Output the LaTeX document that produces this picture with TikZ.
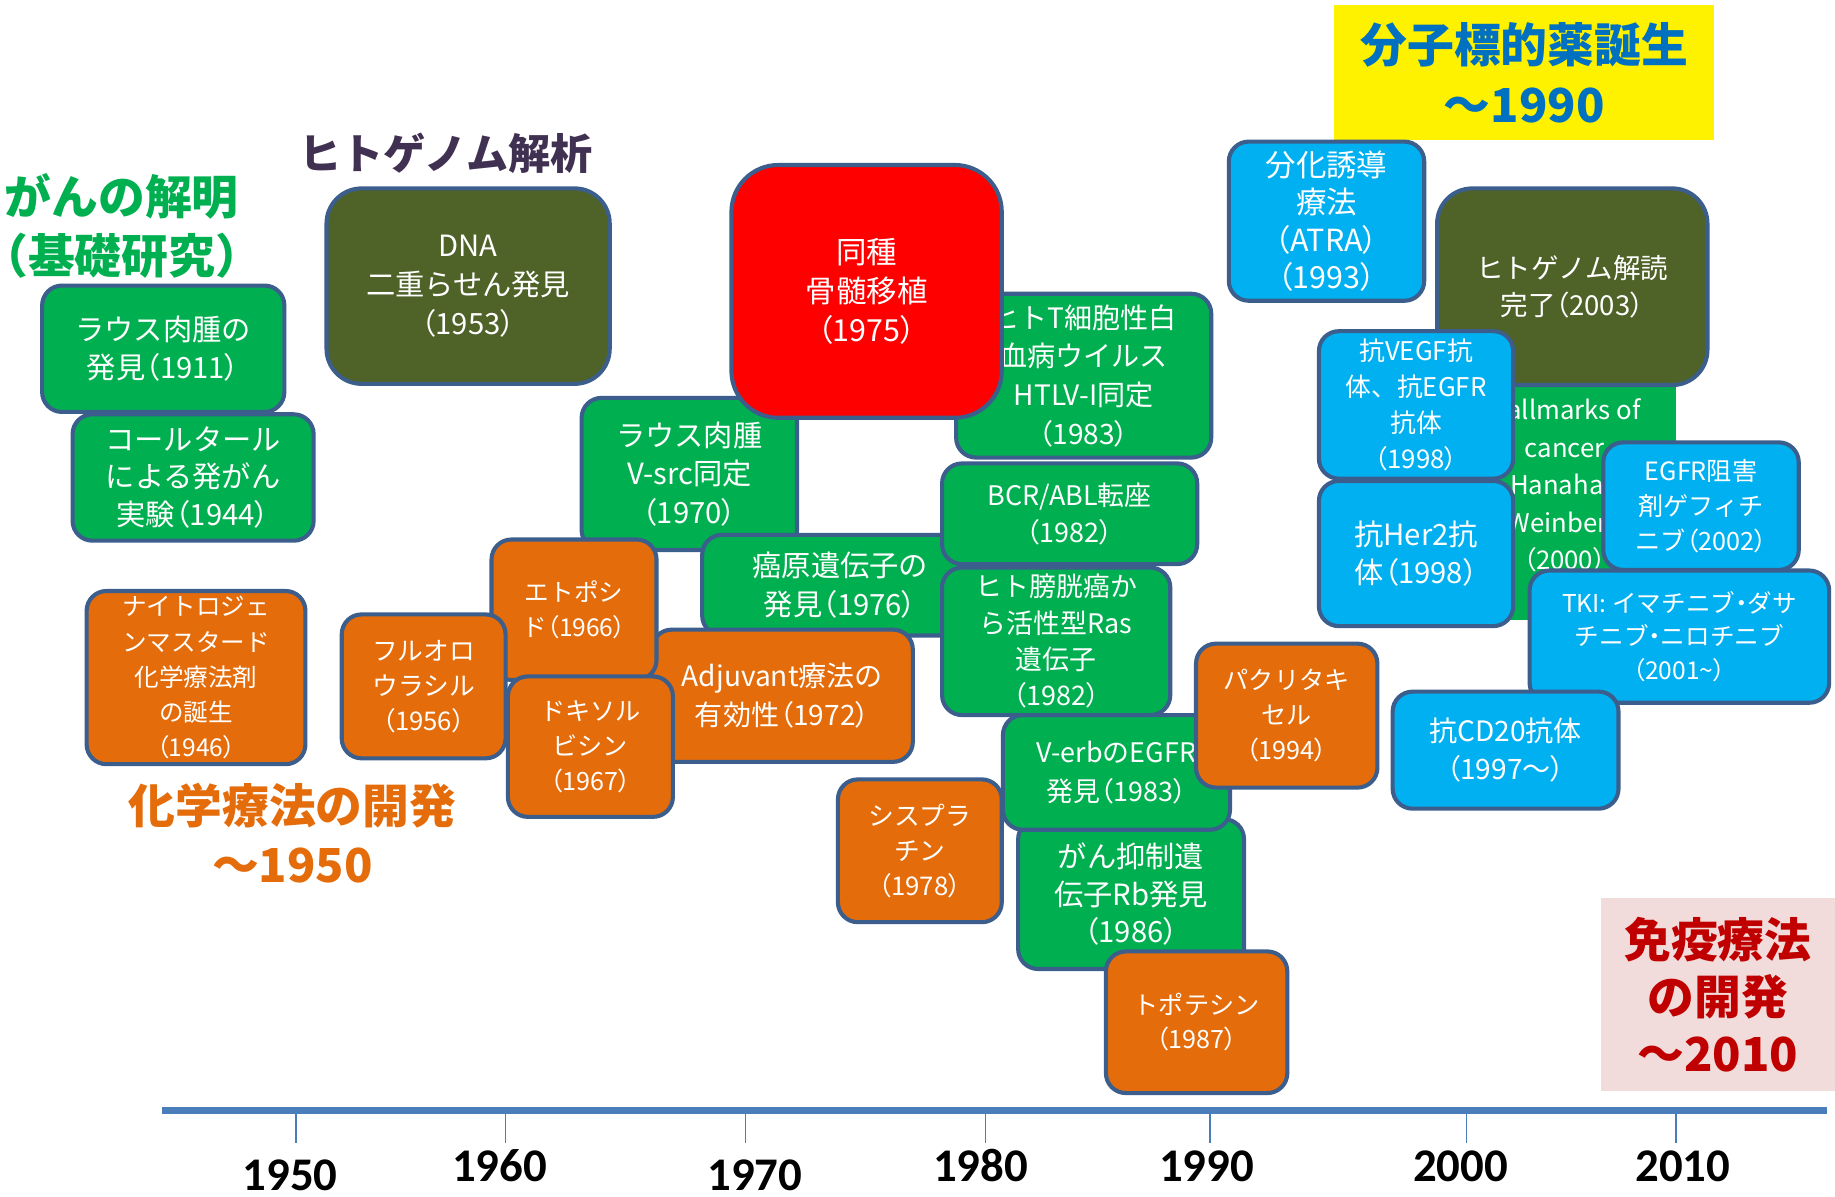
\documentclass[tikz,border=0pt]{standalone}
\usepackage{fontspec}
\setmainfont{Noto Sans CJK JP}
\newfontfamily\pfont{Noto Sans CJK JP}[RawFeature=+palt]
\newfontfamily\yearfont{Carlito}
\newcommand{\jlp}{{\pfont （}}
\newcommand{\jrp}{{\pfont ）}}
\newcommand{\jdot}{{\pfont ・}}
\definecolor{grn}{HTML}{00B050}
\definecolor{olv}{HTML}{4F6228}
\definecolor{org}{HTML}{E46C0A}
\definecolor{rd}{HTML}{FF0000}
\definecolor{cyn}{HTML}{00B0F0}
\definecolor{bordc}{HTML}{3B5E8C}
\definecolor{ttlpurple}{HTML}{403152}
\definecolor{ttlblue}{HTML}{0070C0}
\definecolor{ttlred}{HTML}{C00000}
\definecolor{pinkbg}{HTML}{F2DCDB}
\definecolor{axisc}{HTML}{4A7EBB}
\tikzset{
  box/.style={draw=bordc, line width=3.5pt, rounded corners=17pt, text=white, align=center, inner sep=0pt, anchor=center},
  fs/.style 2 args={font=\fontsize{#1}{#2}\selectfont},
  ttl/.style={align=center, inner sep=0pt, anchor=center, font=\fontsize{40}{50}\selectfont\bfseries},
  tick/.style={draw=axisc, line width=1.3pt},
  yr/.style={inner sep=0pt, anchor=base, text depth=0pt, font=\fontsize{40}{40}\selectfont\yearfont\bfseries}
}
\begin{document}
\begin{tikzpicture}[x=1pt,y=-1pt]
\useasboundingbox (0,0) rectangle (1568,1022);

% titles
\node[ttl, text=grn] (tcancer) at (104,193) {がんの解明\\（基礎研究）};
\node[ttl, text=ttlpurple, font=\fontsize{36}{40}\selectfont\bfseries] (tgenome) at (381,131) {ヒトゲノム解析};
\node[ttl, text=org] (tchemo) at (250,712) {化学療法の開発\\～1950};
\node[fill=yellow, minimum width=325pt, minimum height=116pt, inner sep=0pt] (ybox) at (1302.5,62) {};
\node[ttl, text=ttlblue, font=\fontsize{40}{51}\selectfont\bfseries] (tmol) at (1302.5,62) {分子標的薬誕生\\～1990};
\node[fill=pinkbg, minimum width=200pt, minimum height=165pt, inner sep=0pt] (pbox) at (1468,849.5) {};
\node[ttl, text=ttlred, font=\fontsize{40}{48.5}\selectfont\bfseries] (timm) at (1468,850) {免疫療法\\の開発\\～2010};

% boxes
\node[box, fill=grn, minimum width=207pt, minimum height=108pt, fs={25}{32}] (b1) at (139.5,298) {ラウス肉腫の\\発見\jlp 1911\jrp};
\node[box, fill=grn, minimum width=206pt, minimum height=108pt, fs={25}{32}] (b2) at (165,408) {コールタール\\による発がん\\実験\jlp 1944\jrp};
\node[box, fill=olv, minimum width=242pt, minimum height=167pt, rounded corners=30pt, fs={25}{33}] (b3) at (400,244.5) {DNA\\二重らせん発見\\\jlp 1953\jrp};
\node[box, fill=grn, minimum width=184pt, minimum height=130pt, fs={25}{33}] (b5) at (589,405) {ラウス肉腫\\V-src同定\\\jlp 1970\jrp};
\node[box, fill=grn, minimum width=218pt, minimum height=140pt, fs={24}{33}] (b6) at (926,321) {ヒトT細胞性白\\血病ウイルス\\HTLV-I同定\\\jlp 1983\jrp};
\node[box, fill=rd, minimum width=231pt, minimum height=216pt, rounded corners=40pt, fs={26}{33}] (b4) at (740.5,249) {同種\\骨髄移植\\\jlp 1975\jrp};
\node[box, fill=grn, minimum width=236pt, minimum height=86pt, fs={25}{33}] (b8) at (718,500) {癌原遺伝子の\\発見\jlp 1976\jrp};
\node[box, fill=grn, minimum width=218pt, minimum height=86pt, fs={23}{32}] (b7) at (914,439) {BCR/ABL転座\\\jlp 1982\jrp};
\node[box, fill=grn, minimum width=193pt, minimum height=128pt, fs={25}{32}] (b18) at (966.5,764) {がん抑制遺\\伝子Rb発見\\\jlp 1986\jrp};
\node[box, fill=grn, minimum width=194pt, minimum height=98pt, fs={23}{33}] (b16) at (954,660) {V-erbのEGFR\\発見\jlp 1983\jrp};
\node[box, fill=grn, minimum width=195pt, minimum height=126pt, fs={23}{31}] (b9) at (902.5,548) {ヒト膀胱癌か\\ら活性型Ras\\遺伝子\\\jlp 1982\jrp};
\node[box, fill=org, minimum width=223pt, minimum height=113pt, fs={24}{33}] (b11) at (668.5,594.5) {Adjuvant療法の\\有効性\jlp 1972\jrp};
\node[box, fill=org, minimum width=141pt, minimum height=120pt, fs={21}{30}] (b10) at (490.5,521) {エトポシ\\ド\jlp 1966\jrp};
\node[box, fill=org, minimum width=141pt, minimum height=120pt, fs={21.5}{30}] (b12) at (504.5,638) {ドキソル\\ビシン\\\jlp 1967\jrp};
\node[box, fill=org, minimum width=140pt, minimum height=123pt, fs={22}{30}] (b13) at (362,586.5) {フルオロ\\ウラシル\\\jlp 1956\jrp};
\node[box, fill=org, minimum width=187pt, minimum height=148pt, fs={21}{30}] (b14) at (167.5,579) {ナイトロジェ\\ンマスタード\\化学療法剤\\の誕生\\\jlp 1946\jrp};
\node[box, fill=org, minimum width=140pt, minimum height=122pt, fs={22}{30}] (b15) at (786,727) {シスプラ\\チン\\\jlp 1978\jrp};
\node[box, fill=org, minimum width=155pt, minimum height=123pt, fs={21.5}{30}] (b17) at (1099.5,611.5) {パクリタキ\\セル\\\jlp 1994\jrp};
\node[box, fill=org, minimum width=155pt, minimum height=121pt, fs={21.5}{29}] (b19) at (1022.5,873.5) {トポテシン\\\jlp 1987\jrp};
\node[box, fill=cyn, minimum width=167pt, minimum height=136pt, fs={26}{32}] (b20) at (1133.5,189) {分化誘導\\療法\\\jlp ATRA\jrp\\\jlp 1993\jrp};
\node[fill=grn, minimum width=170pt, minimum height=204pt, inner sep=0pt, text=white, align=center, fs={22}{32}] (b22) at (1347,428) {};
\node[text=white, align=center, inner sep=0pt, fs={22}{32}] (b22t) at (1337,415) {Hallmarks of\\cancer\\Hanahan\\Weinberg\\\jlp 2000\jrp};
\node[box, fill=olv, minimum width=231pt, minimum height=168pt, rounded corners=30pt, fs={23.5}{31}] (b21) at (1343.5,245) {ヒトゲノム解読\\完了\jlp 2003\jrp};
\node[box, fill=cyn, minimum width=166pt, minimum height=126pt, fs={22}{31}] (b23) at (1210,346) {抗VEGF抗\\体、抗EGFR\\抗体\\\jlp 1998\jrp};
\node[box, fill=cyn, minimum width=166pt, minimum height=124pt, fs={25}{33}] (b24) at (1210,473) {抗Her2抗\\体\jlp 1998\jrp};
\node[box, fill=cyn, minimum width=167pt, minimum height=109pt, fs={21.5}{30}] (b25) at (1453.5,432.5) {EGFR阻害\\剤ゲフィチ\\ニブ\jlp 2002\jrp};
\node[box, fill=cyn, minimum width=256pt, minimum height=113pt, fs={21}{29}] (b26) at (1435,544) {TKI: イマチニブ\jdot ダサ\\チニブ\jdot ニロチニブ\\\jlp 2001\textasciitilde\jrp};
\node[box, fill=cyn, minimum width=193pt, minimum height=100pt, fs={24}{32}] (b27) at (1286.5,641) {抗CD20抗体\\\jlp 1997～\jrp};

% timeline
\coordinate (axl) at (138,949);
\coordinate (axr) at (1561,949);
\draw[draw=axisc, line width=6.5pt] (axl) -- (axr);
\foreach \xx in {253, 432, 637, 842, 1034, 1253, 1432}{
  \draw[tick] (\xx,952) -- (\xx,977);
}
\node[yr] (y1950) at (248,1017) {1950};
\node[yr] (y1960) at (427,1010) {1960};
\node[yr] (y1970) at (645,1017) {1970};
\node[yr] (y1980) at (838,1010) {1980};
\node[yr] (y1990) at (1031,1010) {1990};
\node[yr] (y2000) at (1248,1010) {2000};
\node[yr] (y2010) at (1438,1010) {2010};
\end{tikzpicture}
\end{document}
